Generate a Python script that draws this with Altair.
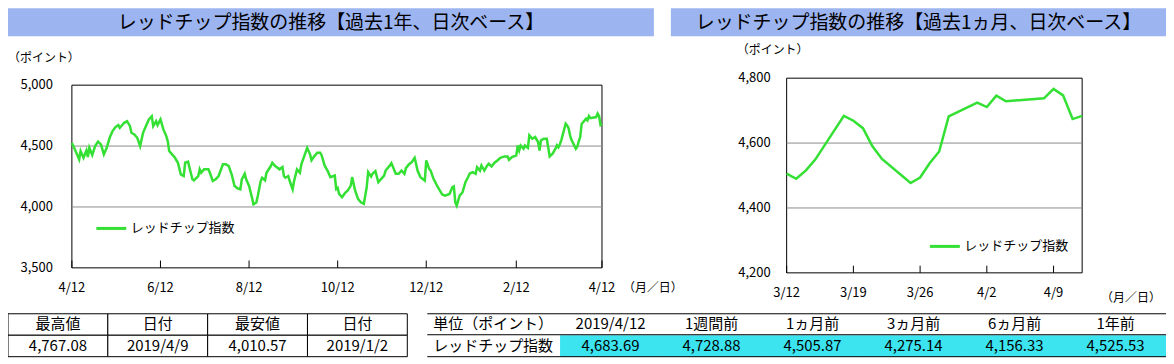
import altair as alt
import pandas as pd

# ---------------- data ----------------
SERIES = "レッドチップ指数"
TITLE_YEAR = "レッドチップ指数の推移【過去1年、日次ベース】"
TITLE_MONTH = "レッドチップ指数の推移【過去1ヵ月、日次ベース】"
UNIT = "（ポイント）"
DATE_UNIT = "（月／日）"

YEAR_START = "2018-04-12"
YEAR_END = "2019-04-12"
# trading days (offset in days from 2018-04-12) and values
YEAR_DAYS = [0, 2, 5, 6, 8, 10, 11, 12, 14, 16, 18, 20, 22, 24, 26, 28, 30, 32, 33, 35,
             36, 38, 40, 41, 43, 45, 47, 49, 51, 53, 55, 56, 58, 59, 61, 63, 65, 66, 67, 69,
             71, 73, 75, 77, 78, 80, 81, 83, 84, 87, 88, 89, 91, 94, 95, 97, 99, 101, 104, 106,
             108, 110, 112, 114, 116, 117, 119, 120, 122, 124, 125, 127, 128, 130, 131, 133, 134, 137, 138, 140,
             143, 145, 146, 147, 149, 150, 152, 153, 155, 157, 158, 160, 162, 164, 165, 167, 169, 171, 172, 174,
             176, 178, 181, 182, 183, 184, 186, 188, 190, 192, 193, 195, 197, 199, 201, 203, 204, 206, 207, 209,
             211, 213, 215, 216, 219, 220, 223, 225, 227, 229, 230, 232, 234, 236, 237, 238, 240, 243, 244, 246,
             247, 249, 252, 255, 257, 260, 262, 263, 264, 265, 267, 269, 271, 273, 274, 276, 278, 279, 281, 282,
             284, 286, 287, 289, 291, 293, 295, 298, 300, 301, 303, 306, 307, 308, 309, 311, 312, 314, 315, 317,
             319, 321, 322, 323, 325, 327, 329, 331, 333]
YEAR_VALS = [4525.53, 4473, 4391, 4459, 4404, 4464, 4410, 4486, 4426, 4500, 4536, 4514, 4432, 4486, 4568, 4623, 4656, 4672, 4650, 4677,
             4691, 4705, 4664, 4609, 4596, 4568, 4500, 4609, 4664, 4719, 4745, 4664, 4705, 4672, 4719, 4637, 4582, 4541, 4459, 4432,
             4404, 4363, 4268, 4254, 4363, 4372, 4322, 4227, 4219, 4254, 4309, 4281, 4309, 4309, 4281, 4213, 4227, 4254, 4350, 4350,
             4336, 4268, 4172, 4153, 4145, 4227, 4273, 4227, 4172, 4077, 4022, 4036, 4090, 4213, 4240, 4219, 4281, 4336, 4363, 4336,
             4309, 4328, 4254, 4240, 4254, 4213, 4145, 4213, 4309, 4281, 4350, 4418, 4486, 4432, 4383, 4418, 4445, 4445, 4423, 4341,
             4299, 4245, 4258, 4148, 4156.33, 4107, 4080, 4113, 4135, 4176, 4245, 4135, 4066, 4038, 4025, 4162, 4286, 4250, 4272, 4294,
             4203, 4231, 4258, 4299, 4341, 4360, 4272, 4272, 4299, 4272, 4319, 4349, 4368, 4404, 4354, 4299, 4245, 4217, 4382, 4313,
             4299, 4231, 4162, 4102, 4093, 4107, 4162, 4168, 4038, 4010.57, 4093, 4121, 4203, 4250, 4275.14, 4286, 4272, 4327, 4299, 4341,
             4299, 4341, 4354, 4332, 4363, 4382, 4404, 4415, 4415, 4387, 4409, 4423, 4505, 4464, 4505, 4478, 4505, 4486, 4588, 4560,
             4574, 4533, 4464, 4547, 4560, 4560, 4415, 4437, 4478]

MONTH_START = "2019-03-12"
MONTH_END = "2019-04-12"
MONTH_DATES = ["2019-03-12", "2019-03-13", "2019-03-14", "2019-03-15", "2019-03-18", "2019-03-19",
               "2019-03-20", "2019-03-21", "2019-03-22", "2019-03-25", "2019-03-26", "2019-03-27",
               "2019-03-28", "2019-03-29", "2019-04-01", "2019-04-02", "2019-04-03", "2019-04-04",
               "2019-04-08", "2019-04-09", "2019-04-10", "2019-04-11", "2019-04-12"]
MONTH_VALS = [4505.87, 4490, 4515, 4549, 4684, 4669, 4646, 4590, 4551, 4477, 4494, 4538,
              4574, 4682, 4725, 4711, 4746, 4728.88, 4738, 4767.08, 4747, 4674, 4683.69]

YEAR_XTICKS = ["2018-04-12", "2018-06-12", "2018-08-12", "2018-10-12", "2018-12-12", "2019-02-12", "2019-04-12"]
MONTH_XTICKS = ["2019-03-12", "2019-03-19", "2019-03-26", "2019-04-02", "2019-04-09"]
YEAR_YTICKS = [3500, 4000, 4500, 5000]
MONTH_YTICKS = [4200, 4400, 4600, 4800]
YEAR_GRID = [4000, 4500]
MONTH_GRID = [4400, 4600]

T1_HEAD = ["最高値", "日付", "最安値", "日付"]
T1_VALS = ["4,767.08", "2019/4/9", "4,010.57", "2019/1/2"]
T2_CORNER = ["単位（ポイント）", "レッドチップ指数"]
T2_HEAD = ["2019/4/12", "1週間前", "1ヵ月前", "3ヵ月前", "6ヵ月前", "1年前"]
T2_VALS = ["4,683.69", "4,728.88", "4,505.87", "4,275.14", "4,156.33", "4,525.53"]

# ---------------- style ----------------
FONT = "Noto Sans CJK JP"
GREEN = "#33e033"
GRIDC = "#8c8c8c"
BAR = "#9cb4f0"
CYAN = "#3ce4f0"
W, H = 1160, 350


def dt(s):
    t = pd.Timestamp(s)
    return alt.DateTime(year=t.year, month=t.month, date=t.day)


year_df = pd.DataFrame({
    "date": pd.Timestamp(YEAR_START) + pd.to_timedelta(YEAR_DAYS, unit="D"),
    "value": YEAR_VALS,
})
month_df = pd.DataFrame({"date": pd.to_datetime(MONTH_DATES), "value": MONTH_VALS})
year_full = pd.concat([year_df, month_df], ignore_index=True)
year_full["series"] = SERIES
month_df["series"] = SERIES
one = pd.DataFrame({"k": [0]})


def label(text, x, y, size=13, align="left"):
    return alt.Chart(pd.DataFrame({"t": [text]})).mark_text(
        font=FONT, fontSize=size, color="black", align=align, baseline="middle").encode(
        text="t:N", x=alt.value(x), y=alt.value(y))


def panel(df, x0, x1, y0, y1, xticks, yticks, grid, tick_len, xr, yr,
          xlab_y, ylab_x, unit_xy, date_xy, legend_xy):
    xs = alt.Scale(domain=[dt(x0), dt(x1)], range=xr, nice=False)
    ys = alt.Scale(domain=[y0, y1], range=yr, nice=False, zero=False)
    t0, t1 = pd.Timestamp(x0), pd.Timestamp(x1)

    frame_df = pd.DataFrame({"a": [t0], "b": [t1], "lo": [y0], "hi": [y1]})
    frame = alt.Chart(frame_df).mark_rect(fill="white", stroke="black", strokeWidth=1).encode(
        x=alt.X("a:T", scale=xs, axis=None), x2="b",
        y=alt.Y("lo:Q", scale=ys, axis=None), y2="hi")

    grid_df = pd.DataFrame({"v": grid, "a": [t0] * len(grid), "b": [t1] * len(grid)})
    gridlines = alt.Chart(grid_df).mark_rule(color=GRIDC, strokeWidth=1).encode(
        x=alt.X("a:T", scale=xs, axis=None), x2="b",
        y=alt.Y("v:Q", scale=ys, axis=None))

    tick_df = pd.DataFrame({"d": pd.to_datetime(xticks), "lo": [y0] * len(xticks),
                            "hi": [y0 + tick_len] * len(xticks)})
    ticks = alt.Chart(tick_df).mark_rule(color="black", strokeWidth=1).encode(
        x=alt.X("d:T", scale=xs, axis=None),
        y=alt.Y("lo:Q", scale=ys, axis=None), y2="hi")

    xlabels = alt.Chart(tick_df).mark_text(font=FONT, fontSize=13, color="black",
                                           align="center", baseline="middle").encode(
        x=alt.X("d:T", scale=xs, axis=None), y=alt.value(xlab_y),
        text=alt.Text("d:T", format="%-m/%-d"))

    ylab_df = pd.DataFrame({"v": yticks})
    ylabels = alt.Chart(ylab_df).mark_text(font=FONT, fontSize=13, color="black",
                                           align="right", baseline="middle").encode(
        x=alt.value(ylab_x), y=alt.Y("v:Q", scale=ys, axis=None),
        text=alt.Text("v:Q", format=","))

    line = alt.Chart(df).mark_line(strokeWidth=2.5).encode(
        x=alt.X("date:T", scale=xs, axis=None),
        y=alt.Y("value:Q", scale=ys, axis=None),
        color=alt.Color("series:N", scale=alt.Scale(range=[GREEN]),
                        legend=alt.Legend(orient="none", legendX=legend_xy[0], legendY=legend_xy[1],
                                          title=None, symbolType="stroke", symbolSize=900,
                                          symbolStrokeWidth=3, padding=0, labelOffset=3,
                                          labelFont=FONT, labelFontSize=13, labelColor="black")))
    unit = label(UNIT, unit_xy[0], unit_xy[1], size=12)
    dunit = label(DATE_UNIT, date_xy[0], date_xy[1], size=12)
    return alt.layer(frame, gridlines, ticks, xlabels, ylabels, line, unit, dunit)


chart_year = panel(year_full, YEAR_START, YEAR_END, 3500, 5000, YEAR_XTICKS, YEAR_YTICKS,
                   YEAR_GRID, 60, [64, 595], [260, 77], 280, 45,
                   (0, 50), (616, 280), (87, 204))
chart_month = panel(month_df, MONTH_START, MONTH_END, 4200, 4800, MONTH_XTICKS, MONTH_YTICKS,
                    MONTH_GRID, 22, [780, 1076], [265, 70], 285, 764,
                    (730, 42), (1095, 290), (922, 222))

# ---------------- title bars ----------------


def bar(x0, x1, text):
    r = alt.Chart(one).mark_rect(fill=BAR).encode(
        x=alt.value(x0), x2=alt.value(x1), y=alt.value(0), y2=alt.value(28))
    t = alt.Chart(pd.DataFrame({"t": [text]})).mark_text(
        font=FONT, fontSize=19, color="black", align="center", baseline="middle").encode(
        text="t:N", x=alt.value((x0 + x1) / 2), y=alt.value(15))
    return r + t


deco = alt.layer(bar(0, 647, TITLE_YEAR), bar(664, 1160, TITLE_MONTH))

# ---------------- table 1 ----------------
t1 = pd.DataFrame({
    "col": list(range(4)) * 2,
    "row": ["h"] * 4 + ["v"] * 4,
    "text": T1_HEAD + T1_VALS,
})
t1x = alt.Scale(range=[0, 400], paddingInner=0, paddingOuter=0)
t1y = alt.Scale(domain=["h", "v"], range=[306, 349], paddingInner=0, paddingOuter=0)
table1 = alt.layer(
    alt.Chart(t1).mark_rect(fill="white", stroke="black", strokeWidth=1).encode(
        x=alt.X("col:O", scale=t1x, axis=None), y=alt.Y("row:N", scale=t1y, axis=None)),
    alt.Chart(t1).mark_text(font=FONT, fontSize=15, color="black", baseline="middle").encode(
        x=alt.X("col:O", scale=t1x, axis=None), y=alt.Y("row:N", scale=t1y, axis=None),
        text="text:N"),
)

# ---------------- table 2 ----------------
t2 = pd.DataFrame({
    "col": list(range(6)) * 2,
    "row": ["h"] * 6 + ["v"] * 6,
    "text": T2_HEAD + T2_VALS,
})
t2c = pd.DataFrame({"row": ["h", "v"], "text": T2_CORNER})
t2x = alt.Scale(range=[553, 1160], paddingInner=0, paddingOuter=0)
t2y = alt.Scale(domain=["h", "v"], range=[306, 349], paddingInner=0, paddingOuter=0)
cyan = alt.Chart(t2[t2["row"] == "v"]).mark_rect(fill=CYAN).encode(
    x=alt.X("col:O", scale=t2x, axis=None), y=alt.Y("row:N", scale=t2y, axis=None))
t2text = alt.Chart(t2).mark_text(font=FONT, fontSize=15, color="black", baseline="middle").encode(
    x=alt.X("col:O", scale=t2x, axis=None), y=alt.Y("row:N", scale=t2y, axis=None), text="text:N")
t2corner = alt.Chart(t2c).mark_text(font=FONT, fontSize=15, color="black", baseline="middle").encode(
    x=alt.value(486), y=alt.Y("row:N", scale=t2y, axis=None), text="text:N")
rules = [alt.Chart(one).mark_rule(color="black", strokeWidth=1).encode(
    x=alt.value(420), x2=alt.value(1160), y=alt.value(yv)) for yv in (306, 327, 349)]
table2 = alt.layer(cyan, t2text, t2corner, *rules)

chart = alt.layer(deco, chart_year, chart_month, table1, table2).resolve_scale(
    x="independent", y="independent", color="independent"
).resolve_legend(color="independent").properties(
    width=W, height=H, padding=0, autosize=alt.AutoSizeParams(type="none")
).configure_view(strokeWidth=0)

chart.save("out.html", embed_options={"renderer": "svg", "actions": False})
